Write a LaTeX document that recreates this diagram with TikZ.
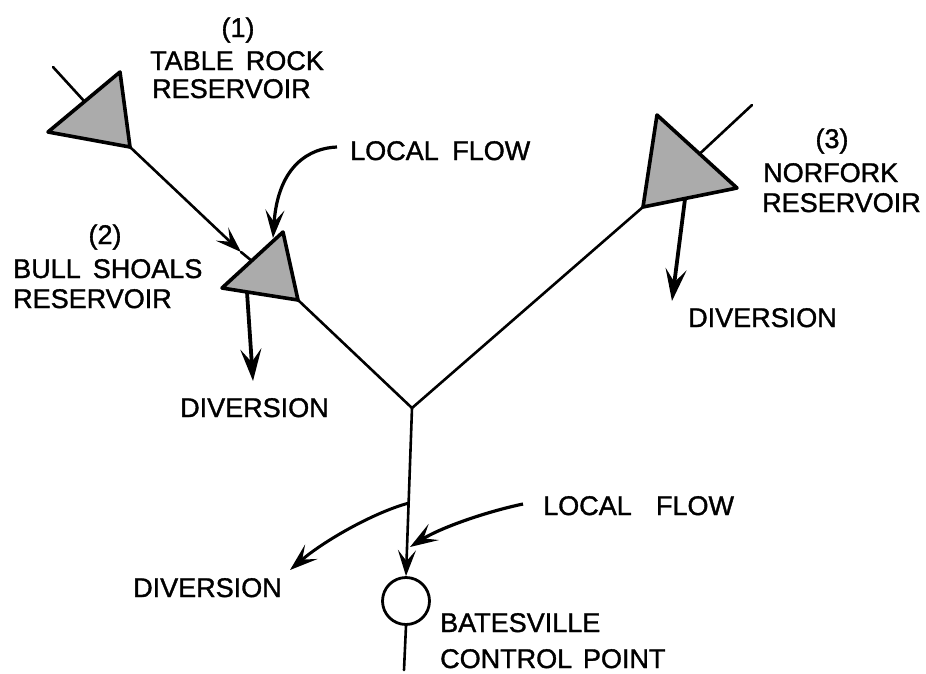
\documentclass[tikz,border=0pt]{standalone}
\usepackage{fontspec}
\newfontfamily\lettering{Liberation Sans}[FakeBold=1.3]
\usetikzlibrary{arrows.meta}
\begin{document}
\begin{tikzpicture}[x=1pt,y=-1pt,
  lbl/.style={anchor=base west, inner sep=0pt, font=\lettering\fontsize{27}{30}\selectfont},
  num/.style={anchor=base, inner sep=0pt, font=\lettering\fontsize{27}{30}\selectfont},
  river/.style={line width=2.6pt, line cap=round},
  smalltip/.style={-{Stealth[length=26pt,width=18pt,inset=11pt]}},
  divert/.style={line width=3.8pt, -{Stealth[length=32pt,width=21pt,inset=13pt]}},
  inflow/.style={line width=3.2pt, -{Stealth[length=28pt,width=19pt,inset=12pt]}},
  reservoir/.style={draw, line width=3.6pt, fill=black!33, line join=round},
]
\useasboundingbox (0,0) rectangle (926,673);

% reservoir vertices
\coordinate (t1a) at (120,72);  \coordinate (t1b) at (48,132);  \coordinate (t1c) at (130,147);
\coordinate (t2a) at (283,232); \coordinate (t2b) at (222,288); \coordinate (t2c) at (298,300);
\coordinate (t3a) at (657,115); \coordinate (t3b) at (737,188); \coordinate (t3c) at (643,207);

% river points
\coordinate (src1) at (53,67);    \coordinate (in1) at (95,113);
\coordinate (src3) at (752,105);  \coordinate (in3) at (693,160);
\coordinate (tip12) at (241,252); \coordinate (in2) at (258,266);
\coordinate (junc) at (412,408);
\coordinate (branch) at (409,503);
\coordinate (mouth) at (404,670);

% control point
\node[circle, draw, line width=2.8pt, minimum size=47pt, inner sep=0pt] (bat) at (406,601) {};

% rivers
\draw[river] (src1) -- (in1);
\draw[river] (src3) -- (in3);
\draw[river, smalltip] (t1c) -- (tip12);
\draw[river] (tip12) -- (in2);
\draw[river] (t2c) -- (junc);
\draw[river] (t3c) -- (junc);
\draw[river, smalltip] (junc) -- (bat.north);
\draw[river] (bat.south) -- (mouth);

% reservoirs
\draw[reservoir] (t1a) -- (t1b) -- (t1c) -- cycle;
\draw[reservoir] (t2a) -- (t2b) -- (t2c) -- cycle;
\draw[reservoir] (t3a) -- (t3b) -- (t3c) -- cycle;

% diversions
\coordinate (d2s) at (247,292); \coordinate (d2e) at (253,381);
\coordinate (d3s) at (685,199); \coordinate (d3e) at (672,301);
\coordinate (d4e) at (290,570);
\draw[divert] (d2s) -- (d2e);
\draw[divert] (d3s) -- (d3e);
\draw[line width=3pt, -{Stealth[length=28pt,width=19pt,inset=12pt]}]
  (branch) .. controls (375,512) and (325,540) .. (d4e);

% local inflows
\coordinate (lf1s) at (337,147); \coordinate (lf1e) at (273,238);
\coordinate (lf2s) at (523,504); \coordinate (lf2e) at (410,547);
\draw[inflow] (lf1s) .. controls (310,148) and (278,165) .. (lf1e);
\draw[inflow] (lf2s) .. controls (485,512) and (440,528) .. (lf2e);

% labels
\node[num] (n1) at (238,37) {(1)};
\node[lbl] (l1a) at (150,70) {TABLE\hspace{0.45em}ROCK};
\node[lbl] (l1b) at (152,98) {RESERVOIR};
\node[num] (n2) at (105,244) {(2)};
\node[lbl] (l2a) at (13,278) {BULL\hspace{0.45em}SHOALS};
\node[lbl] (l2b) at (13,308) {RESERVOIR};
\node[num] (n3) at (832,148) {(3)};
\node[lbl] (l3a) at (763,182) {NORFORK};
\node[lbl] (l3b) at (762,212) {RESERVOIR};
\node[lbl] (lf1) at (350,160) {LOCAL\hspace{0.5em}FLOW};
\node[lbl] (lf2) at (543,515) {LOCAL\hspace{0.9em}FLOW};
\node[lbl] (dv2) at (180,417) {DIVERSION};
\node[lbl] (dv3) at (688,327) {DIVERSION};
\node[lbl] (dv4) at (133,597) {DIVERSION};
\node[lbl] (cp1) at (440,632) {BATESVILLE};
\node[lbl] (cp2) at (440,668) {CONTROL\hspace{0.4em}POINT};
\end{tikzpicture}
\end{document}
